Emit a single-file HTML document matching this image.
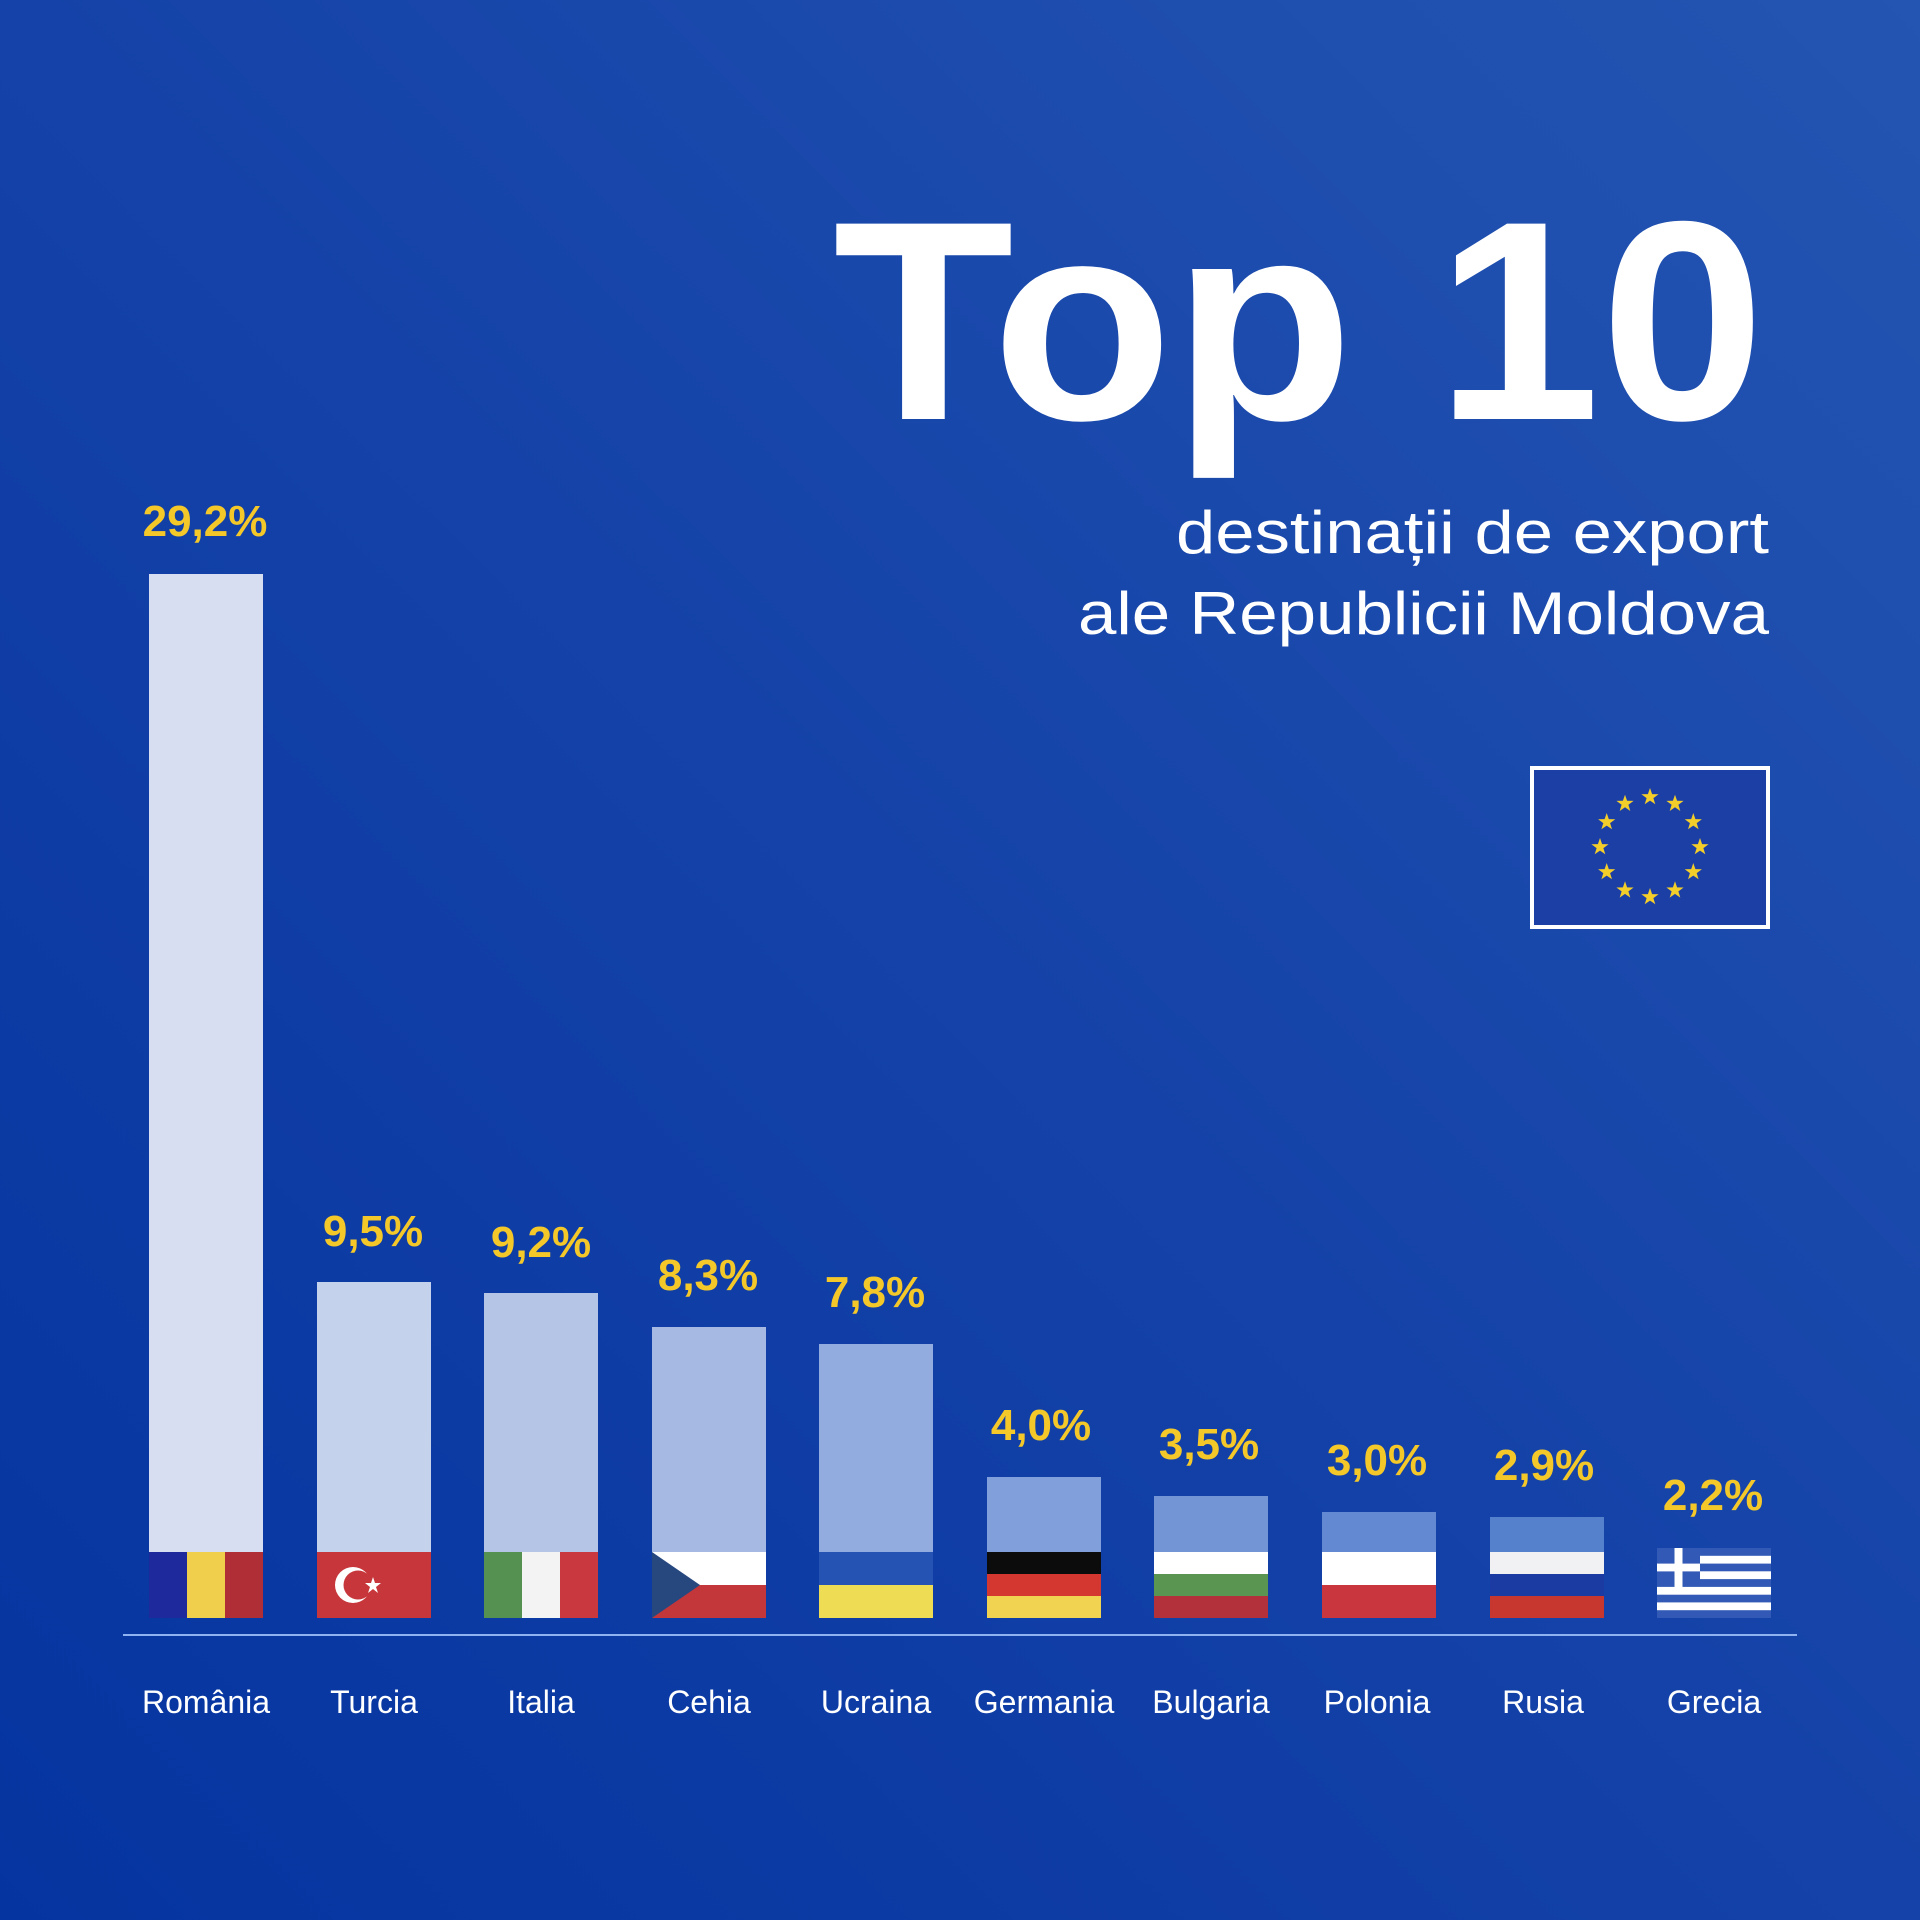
<!DOCTYPE html>
<html><head><meta charset="utf-8"><style>
html,body{margin:0;padding:0;width:1920px;height:1920px;overflow:hidden}
svg{display:block}
</style></head><body>
<svg width="1920" height="1920" viewBox="0 0 1920 1920" xmlns="http://www.w3.org/2000/svg" font-family="Liberation Sans, sans-serif">
<defs>
<linearGradient id="bg" x1="1" y1="0" x2="0" y2="1">
<stop offset="0" stop-color="#2455b2"/>
<stop offset="0.5" stop-color="#1442a8"/>
<stop offset="1" stop-color="#0534a0"/>
</linearGradient>
<polygon id="st" points="0,-9 2.1,-2.9 8.6,-2.8 3.4,1.1 5.3,7.3 0,3.6 -5.3,7.3 -3.4,1.1 -8.6,-2.8 -2.1,-2.9" fill="#f3cd2a"/>
</defs>
<rect width="1920" height="1920" fill="url(#bg)"/>

<text x="1765" y="419" text-anchor="end" font-size="284" font-weight="bold" fill="#fff" textLength="932" lengthAdjust="spacingAndGlyphs">Top 10</text>
<text x="1769" y="553" text-anchor="end" font-size="60" fill="#fff" textLength="593" lengthAdjust="spacingAndGlyphs">destinații de export</text>
<text x="1769" y="634" text-anchor="end" font-size="60" fill="#fff" textLength="691" lengthAdjust="spacingAndGlyphs">ale Republicii Moldova</text>

<rect x="1532" y="768" width="236" height="159" fill="#1c3fa6" stroke="#fff" stroke-width="4"/>
<g transform="translate(1650,847)">
<use href="#st" x="0" y="-50"/><use href="#st" x="25" y="-43.3"/><use href="#st" x="43.3" y="-25"/>
<use href="#st" x="50" y="0"/><use href="#st" x="43.3" y="25"/><use href="#st" x="25" y="43.3"/>
<use href="#st" x="0" y="50"/><use href="#st" x="-25" y="43.3"/><use href="#st" x="-43.3" y="25"/>
<use href="#st" x="-50" y="0"/><use href="#st" x="-43.3" y="-25"/><use href="#st" x="-25" y="-43.3"/>
</g>

<!-- bars -->
<rect x="149" y="574" width="114" height="978" fill="#d8def2"/>
<rect x="317" y="1282" width="114" height="270" fill="#c5d2ec"/>
<rect x="484" y="1293" width="114" height="259" fill="#b4c5e6"/>
<rect x="652" y="1327" width="114" height="225" fill="#a6b9e3"/>
<rect x="819" y="1344" width="114" height="208" fill="#93acdf"/>
<rect x="987" y="1477" width="114" height="75" fill="#819fdb"/>
<rect x="1154" y="1496" width="114" height="56" fill="#7395d6"/>
<rect x="1322" y="1512" width="114" height="40" fill="#6389d2"/>
<rect x="1490" y="1517" width="114" height="35" fill="#5580cc"/>

<!-- flags -->
<rect x="149" y="1552" width="38" height="66" fill="#1e2a9c"/>
<rect x="187" y="1552" width="38" height="66" fill="#efcf4c"/>
<rect x="225" y="1552" width="38" height="66" fill="#b02f37"/>

<rect x="317" y="1552" width="114" height="66" fill="#c7363a"/>
<circle cx="353" cy="1585" r="18" fill="#fff"/><circle cx="358" cy="1585" r="14.5" fill="#c7363a"/>
<polygon points="373,1577 375,1583 381,1583 376,1587 378,1593 373,1589 368,1593 370,1587 365,1583 371,1583" fill="#fff"/>

<rect x="484" y="1552" width="38" height="66" fill="#559150"/>
<rect x="522" y="1552" width="38" height="66" fill="#f3f3f3"/>
<rect x="560" y="1552" width="38" height="66" fill="#c9383f"/>

<rect x="652" y="1552" width="114" height="33" fill="#fff"/>
<rect x="652" y="1585" width="114" height="33" fill="#c3363a"/>
<polygon points="652,1552 700,1585 652,1618" fill="#27477f"/>

<rect x="819" y="1552" width="114" height="33" fill="#2453b4"/>
<rect x="819" y="1585" width="114" height="33" fill="#efdc55"/>

<rect x="987" y="1552" width="114" height="22" fill="#0c0c0c"/>
<rect x="987" y="1574" width="114" height="22" fill="#d4372f"/>
<rect x="987" y="1596" width="114" height="22" fill="#f1d351"/>

<rect x="1154" y="1552" width="114" height="22" fill="#fff"/>
<rect x="1154" y="1574" width="114" height="22" fill="#5a9552"/>
<rect x="1154" y="1596" width="114" height="22" fill="#b2313a"/>

<rect x="1322" y="1552" width="114" height="33" fill="#fff"/>
<rect x="1322" y="1585" width="114" height="33" fill="#c9363d"/>

<rect x="1490" y="1552" width="114" height="22" fill="#f1f1f4"/>
<rect x="1490" y="1574" width="114" height="22" fill="#1b3ba3"/>
<rect x="1490" y="1596" width="114" height="22" fill="#c7362f"/>

<rect x="1657" y="1548" width="114" height="70" fill="#3159b5"/>
<g fill="#fff">
<rect x="1700" y="1555.8" width="71" height="7.8"/>
<rect x="1700" y="1571.3" width="71" height="7.8"/>
<rect x="1657" y="1586.9" width="114" height="7.8"/>
<rect x="1657" y="1602.4" width="114" height="7.8"/>
<rect x="1657" y="1563.6" width="43" height="7.8"/>
<rect x="1674.5" y="1548" width="8" height="39"/>
</g>

<line x1="123" y1="1635" x2="1797" y2="1635" stroke="#8eb3f0" stroke-width="2"/>

<g font-size="44" font-weight="bold" fill="#f5c82a" text-anchor="middle">
<text x="205" y="536">29,2%</text>
<text x="373" y="1246">9,5%</text>
<text x="541" y="1257">9,2%</text>
<text x="708" y="1290">8,3%</text>
<text x="875" y="1307">7,8%</text>
<text x="1041" y="1440">4,0%</text>
<text x="1209" y="1459">3,5%</text>
<text x="1377" y="1475">3,0%</text>
<text x="1544" y="1480">2,9%</text>
<text x="1713" y="1510">2,2%</text>
</g>
<g font-size="32" fill="#fff" text-anchor="middle">
<text x="206" y="1713">România</text>
<text x="374" y="1713">Turcia</text>
<text x="541" y="1713">Italia</text>
<text x="709" y="1713">Cehia</text>
<text x="876" y="1713">Ucraina</text>
<text x="1044" y="1713">Germania</text>
<text x="1211" y="1713">Bulgaria</text>
<text x="1377" y="1713">Polonia</text>
<text x="1543" y="1713">Rusia</text>
<text x="1714" y="1713">Grecia</text>
</g>
</svg>
</body></html>
